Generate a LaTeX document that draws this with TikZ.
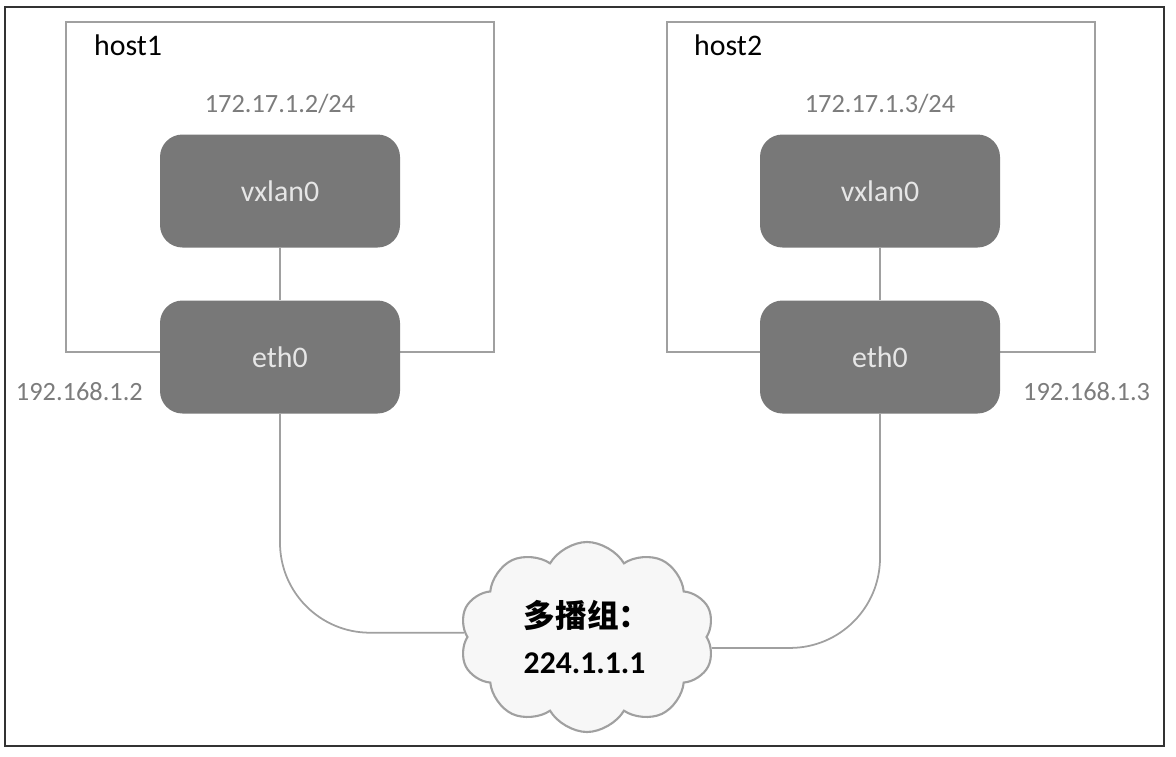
\documentclass[tikz,border=0pt]{standalone}
\usepackage{fontspec}
\setmainfont{Carlito}
\newfontfamily\cjk{Noto Sans CJK SC}
\usepackage{tikz}
\usetikzlibrary{shapes,shapes.symbols,calc}
\definecolor{boxgray}{HTML}{787878}
\definecolor{boxtext}{HTML}{E6E6E6}
\definecolor{labelgray}{HTML}{7C7C7C}
\definecolor{linegray}{HTML}{A0A0A0}
\tikzset{
	hostbox/.style={draw=linegray, line width=1pt, minimum width=8.56cm, minimum height=6.6cm},
	ifbox/.style={fill=boxgray, text=boxtext, rounded corners=.45cm, minimum width=4.8cm, minimum height=2.26cm,
		font=\fontsize{17}{20}\selectfont},
	hostname/.style={anchor=west, font=\fontsize{17}{20}\selectfont},
	addr/.style={text=labelgray, font=\fontsize{15}{18}\selectfont},
	link/.style={draw=linegray, line width=1pt}
}
\begin{document}
\begin{tikzpicture}
	\useasboundingbox (0,0) rectangle (23.52,-15.12);
	\draw[line width=1.2pt, black!80] (.1,-.14) rectangle (23.28,-14.92);
%
	\node[hostbox] (host1) at (5.6,-3.74) {};
	\node[hostbox] (host2) at (17.62,-3.74) {};
	\node[hostname] (name1) at (1.76,-.9) {host1};
	\node[hostname] (name2) at (13.76,-.9) {host2};
%
	\node[addr] (vip1) at (5.6,-2.08) {172.17.1.2/24};
	\node[addr] (vip2) at (17.6,-2.08) {172.17.1.3/24};
	\node[ifbox] (vx1) at (5.6,-3.82) {vxlan0};
	\node[ifbox] (vx2) at (17.6,-3.82) {vxlan0};
	\node[ifbox] (eth1) at (5.6,-7.14) {eth0};
	\node[ifbox] (eth2) at (17.6,-7.14) {eth0};
	\node[addr, anchor=east] (ip1) at (2.98,-7.84) {192.168.1.2};
	\node[addr, anchor=west] (ip2) at (20.34,-7.84) {192.168.1.3};
%
	\node[cloud, cloud puffs=10, cloud puff arc=120, aspect=1.4, draw=linegray, line width=1.2pt, fill=gray!6,
		minimum width=5.1cm, minimum height=3.8cm, align=left] (mc) at (11.74,-12.74)
		{{\cjk\bfseries\fontsize{18}{20}\selectfont 多播组：}\\[12pt]{\bfseries\fontsize{18}{20}\selectfont 224.1.1.1}};
%
	\draw[link] (vx1) -- (eth1);
	\draw[link] (vx2) -- (eth2);
	\draw[link, rounded corners=1.8cm] (eth1.south) |- (mc.178);
	\draw[link, rounded corners=1.8cm] (eth2.south) |- (mc.-5);
\end{tikzpicture}
\end{document}
